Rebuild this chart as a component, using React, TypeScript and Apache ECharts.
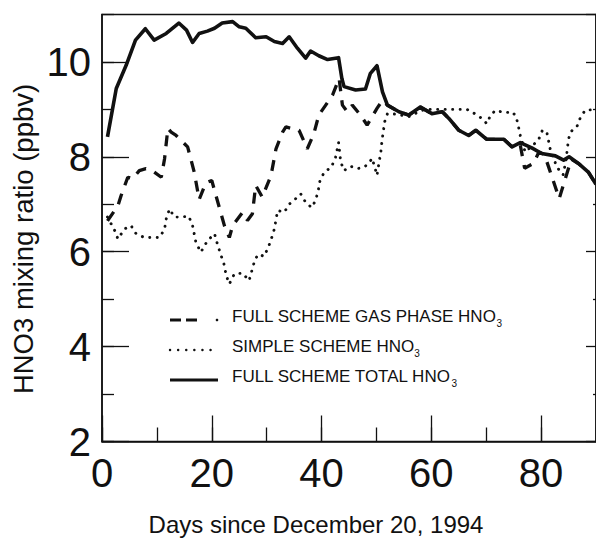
import React, { useEffect, useRef } from "react";
import * as echarts from "echarts";

// ---- Data ----
const totalDays = [1, 2.6, 4.4, 6.1, 7.9, 9.5, 11.7, 14, 15.4, 16.5, 17.7, 19.2, 20.5, 21.9, 23.8, 25, 26.2, 28, 29.9, 31.4, 32.9, 34.1, 35.6, 37.1, 38, 39.5, 41.1, 43.1, 43.7, 44.1, 46.2, 48, 48.9, 50.1, 51.1, 52, 54.1, 55.9, 58, 60.1, 62, 63.2, 65, 66.8, 68.1, 70.1, 73.2, 74.7, 76.2, 78.3, 80.1, 82.6, 84.1, 85.1, 86.8, 88.6, 90];
const totalValues = [8.42, 9.44, 9.93, 10.46, 10.7, 10.46, 10.6, 10.82, 10.67, 10.41, 10.6, 10.65, 10.71, 10.82, 10.85, 10.74, 10.71, 10.51, 10.53, 10.43, 10.39, 10.53, 10.29, 10.08, 10.23, 10.13, 10.05, 10.09, 9.65, 9.48, 9.41, 9.43, 9.76, 9.92, 9.37, 9.09, 8.95, 8.88, 9.05, 8.91, 8.95, 8.81, 8.56, 8.45, 8.56, 8.37, 8.37, 8.21, 8.3, 8.19, 8.07, 8.02, 7.93, 8.0, 7.86, 7.68, 7.42];

const gasDays = [1, 2.9, 3.5, 4.7, 5.6, 6.8, 8.0, 9.5, 10.8, 11.4, 12.0, 12.6, 13.5, 15.6, 16.8, 17.7, 18.9, 20.0, 22.3, 23.2, 23.8, 25.6, 26.5, 27.4, 28.0, 29.2, 30.8, 31.7, 32.9, 33.5, 35.9, 37.4, 38.6, 39.5, 42.0, 43.2, 43.8, 44.7, 45.6, 47.1, 48.3, 50.1, 51.1, 52.0, 54.1, 55.9, 58.0, 60.1, 62.0, 63.2, 65.0, 66.8, 68.1, 70.1, 73.2, 74.7, 76.2, 77.0, 78.6, 79.6, 80.6, 83.3, 85.5, 86.8, 88.6, 90];
const gasValues = [6.65, 6.97, 7.19, 7.57, 7.54, 7.71, 7.75, 7.68, 7.57, 7.96, 8.6, 8.52, 8.45, 8.21, 7.68, 7.1, 7.45, 7.5, 6.55, 6.3, 6.55, 6.83, 6.66, 6.8, 7.4, 7.15, 7.61, 8.17, 8.52, 8.63, 8.56, 8.17, 8.49, 8.88, 9.3, 9.65, 9.09, 8.95, 9.09, 8.88, 8.67, 9.02, 9.19, 9.09, 8.95, 8.88, 9.05, 8.91, 8.95, 8.81, 8.56, 8.45, 8.56, 8.37, 8.37, 8.21, 8.25, 7.76, 7.86, 8.1, 8.05, 7.12, 7.95, 7.86, 7.68, 7.42];

const simpleDays = [1, 2.3, 2.9, 4.1, 5.3, 6.2, 7.7, 9.2, 10.5, 11.4, 11.7, 12.3, 13.2, 14.4, 15.8, 16.5, 17.1, 18.0, 19.2, 20.5, 21.1, 21.7, 22.3, 22.6, 23.2, 24.1, 25.6, 26.8, 27.4, 27.9, 28.6, 29.5, 30.3, 30.9, 31.4, 32.0, 33.2, 34.1, 35.3, 36.2, 37.1, 38.2, 38.9, 39.4, 39.7, 40.5, 41.7, 42.5, 43.1, 43.5, 44.1, 45.3, 46.5, 47.7, 48.6, 49.2, 49.7, 50.1, 50.5, 50.8, 51.0, 51.5, 52.0, 53.5, 55.9, 57.7, 58.8, 61.4, 63.1, 64.9, 66.5, 67.9, 69.2, 70.1, 70.8, 71.7, 73.4, 74.7, 75.4, 75.8, 76.2, 77.1, 79.5, 80.2, 81.0, 81.7, 82.9, 84.0, 84.5, 85.0, 85.5, 86.5, 87.1, 88.0, 90];
const simpleValues = [6.73, 6.45, 6.27, 6.48, 6.55, 6.38, 6.3, 6.3, 6.3, 6.48, 6.69, 6.9, 6.73, 6.73, 6.75, 6.55, 6.2, 5.99, 6.23, 6.38, 6.13, 5.92, 5.71, 5.51, 5.32, 5.53, 5.55, 5.39, 5.64, 5.85, 5.95, 5.9, 6.09, 6.29, 6.48, 6.87, 6.83, 7.0, 7.12, 7.22, 7.04, 6.93, 7.08, 7.29, 7.49, 7.68, 7.77, 7.96, 8.3, 7.89, 7.71, 7.8, 7.75, 7.78, 7.86, 7.97, 7.78, 7.61, 7.9, 8.1, 8.33, 8.74, 8.91, 8.9, 8.85, 8.95, 9.0, 9.0, 9.0, 9.0, 9.0, 8.91, 8.81, 8.7, 8.88, 8.98, 8.93, 8.95, 8.86, 8.68, 8.45, 8.1, 8.35, 8.55, 8.54, 8.14, 7.78, 7.62, 7.9, 8.38, 8.54, 8.63, 8.81, 8.98, 9.0];

const legendLabels = ["FULL SCHEME GAS PHASE HNO", "SIMPLE SCHEME HNO", "FULL SCHEME TOTAL HNO"];
const xAxisTitle = "Days since December 20, 1994";
const yAxisTitle = "HNO3 mixing ratio (ppbv)";

const FONT = "'Liberation Sans', Arial, Helvetica, sans-serif";
const INK = "#111111";

const zip = (xs: number[], ys: number[]) => xs.map((x, i) => [x, ys[i]]);

export default function App() {
  const ref = useRef<HTMLDivElement>(null);
  useEffect(() => {
    if (!ref.current) return;
    const chart = echarts.init(ref.current, undefined, { renderer: "svg" });

    const axisLineStyle = { color: INK, width: 1.5 };
    const legendX0 = 170;
    const legendX1 = 218;
    const rowsY = [320, 350, 380];
    const legendText = (label: string, y: number) => ({
      type: "text",
      left: 232,
      top: y - 12,
      style: {
        text: `{m|${label}}{s|3}`,
        rich: {
          m: { fontSize: 17, fontFamily: FONT, fill: INK, lineHeight: 24, verticalAlign: "middle" },
          s: { fontSize: 10, fontFamily: FONT, fill: INK, lineHeight: 10, verticalAlign: "bottom" },
        },
      },
    });

    chart.setOption({
      animation: false,
      backgroundColor: "#ffffff",
      grid: {
        left: 102,
        right: -1,
        top: 14.5,
        bottom: 99.5,
        show: true,
        borderColor: INK,
        borderWidth: 1.5,
        containLabel: false,
      },
      xAxis: [
        {
          type: "value",
          position: "bottom",
          min: 0,
          max: 90,
          interval: 20,
          axisLine: { show: true, lineStyle: axisLineStyle },
          axisTick: { show: true, inside: true, length: 26, lineStyle: { color: INK, width: 1.3 } },
          axisLabel: {
            show: true,
            fontSize: 40,
            fontFamily: FONT,
            color: INK,
            margin: 11,
            showMaxLabel: false,
          },
          splitLine: { show: false },
        },
        {
          type: "value",
          position: "bottom",
          min: 0,
          max: 90,
          interval: 10,
          axisLine: { show: false },
          axisTick: { show: true, inside: true, length: 14, lineStyle: { color: INK, width: 1.3 } },
          axisLabel: { show: false },
          splitLine: { show: false },
        },
      ],
      yAxis: [
        {
          type: "value",
          position: "left",
          min: 2,
          max: 11,
          interval: 2,
          axisLine: { show: true, lineStyle: axisLineStyle },
          axisTick: { show: true, inside: true, length: 27, lineStyle: { color: INK, width: 1.3 } },
          axisLabel: {
            show: true,
            fontSize: 40,
            fontFamily: FONT,
            color: INK,
            margin: 11,
            showMaxLabel: false,
          },
          splitLine: { show: false },
        },
        {
          type: "value",
          position: "left",
          min: 2,
          max: 11,
          interval: 1,
          axisLine: { show: false },
          axisTick: { show: true, inside: true, length: 12, lineStyle: { color: INK, width: 1.3 } },
          axisLabel: { show: false },
          splitLine: { show: false },
        },
        {
          type: "value",
          position: "right",
          min: 2,
          max: 11,
          interval: 2,
          axisLine: { show: true, lineStyle: axisLineStyle },
          axisTick: { show: true, inside: true, length: 10, lineStyle: { color: INK, width: 1.3 } },
          minorTick: { show: true, splitNumber: 2, length: 3, lineStyle: { color: INK, width: 1.3 } },
          axisLabel: { show: false },
          splitLine: { show: false },
        },
      ],
      series: [
        {
          type: "line",
          name: "gas",
          data: zip(gasDays, gasValues),
          showSymbol: false,
          symbol: "none",
          lineStyle: { color: INK, width: 3.3, type: [11, 9], cap: "butt" },
          z: 3,
        },
        {
          type: "line",
          name: "simple",
          data: zip(simpleDays, simpleValues),
          showSymbol: false,
          symbol: "none",
          lineStyle: { color: INK, width: 2.9, type: [0.1, 7.4], cap: "round" },
          z: 3,
        },
        {
          type: "line",
          name: "total",
          data: zip(totalDays, totalValues),
          showSymbol: false,
          symbol: "none",
          lineStyle: { color: INK, width: 3.6, type: "solid", join: "round" },
          z: 4,
        },
      ],
      graphic: [
        // legend samples
        {
          type: "line",
          shape: { x1: legendX0, y1: rowsY[0], x2: 181, y2: rowsY[0] },
          style: { stroke: INK, lineWidth: 3 },
        },
        {
          type: "line",
          shape: { x1: 186, y1: rowsY[0], x2: 197, y2: rowsY[0] },
          style: { stroke: INK, lineWidth: 3 },
        },
        {
          type: "circle",
          shape: { cx: legendX1 - 1, cy: rowsY[0], r: 1.3 },
          style: { fill: INK },
        },
        {
          type: "line",
          shape: { x1: legendX0, y1: rowsY[1], x2: legendX1, y2: rowsY[1] },
          style: { stroke: INK, lineWidth: 2.4, lineDash: [0.1, 8], lineCap: "round" },
        },
        {
          type: "line",
          shape: { x1: legendX0, y1: rowsY[2], x2: legendX1, y2: rowsY[2] },
          style: { stroke: INK, lineWidth: 3 },
        },
        legendText(legendLabels[0], rowsY[0]),
        legendText(legendLabels[1], rowsY[1]),
        legendText(legendLabels[2], rowsY[2]),
        // axis titles
        {
          type: "text",
          x: 316,
          y: 524,
          style: {
            text: xAxisTitle,
            fontSize: 24,
            fontFamily: FONT,
            fill: INK,
            align: "center",
            verticalAlign: "middle",
          },
        },
        {
          type: "text",
          x: 23,
          y: 239,
          rotation: Math.PI / 2,
          style: {
            text: yAxisTitle,
            fontSize: 27.5,
            fontFamily: FONT,
            fill: INK,
            align: "center",
            verticalAlign: "middle",
          },
        },
      ],
    });
    return () => chart.dispose();
  }, []);

  return <div ref={ref} style={{ width: 596, height: 541, position: "absolute", left: 0, top: 0, background: "#fff" }} />;
}
